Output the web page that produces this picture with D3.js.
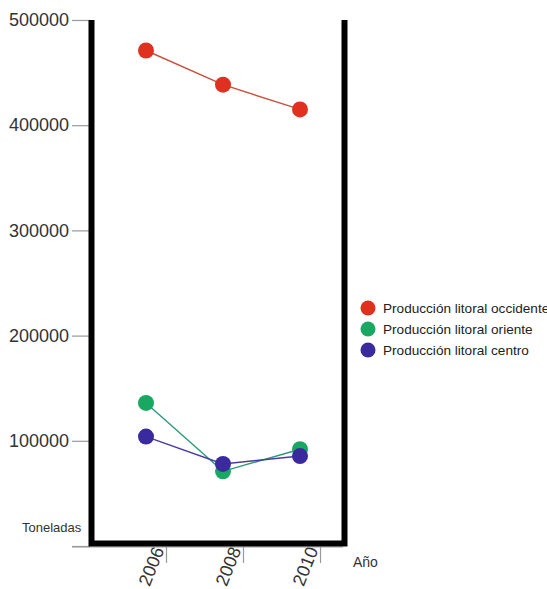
<!DOCTYPE html>
<html><head><meta charset="utf-8">
<script src="https://cdn.jsdelivr.net/npm/d3@7"></script>
<style>
html,body{margin:0;padding:0;background:#fff;overflow:hidden;}
svg{display:block;font-family:"Liberation Sans",Arial,sans-serif;}
</style></head>
<body>
<svg id="c" width="547" height="589"></svg>
<script>
const years = ["2006", "2008", "2010"];
const occidente = [471000, 438500, 415000];
const oriente = [136000, 71000, 92000];
const centro = [104000, 78000, 85500];
const seriesNames = ["Producción litoral occidente", "Producción litoral oriente", "Producción litoral centro"];
const yTicks = [0, 100000, 200000, 300000, 400000, 500000];
const yTickLabels = ["", "100000", "200000", "300000", "400000", "500000"];

const colors = ["#e0301f", "#18a862", "#3a2a9e"];
const lineColors = ["#c8503c", "#2a9a78", "#4a3c9e"];

const svg = d3.select("#c");
const y = d3.scaleLinear().domain([0, 500000]).range([546, 20]);
const x = d3.scalePoint().domain(years).range([146, 300]);
const tickOffset = 20;

// y axis (thin gray ticks)
const yAxis = d3.axisLeft(y).tickValues(yTicks).tickSize(18).tickPadding(3)
  .tickFormat((d, i) => yTickLabels[i]);
const gy = svg.append("g").attr("transform", "translate(90,0)").call(yAxis);
gy.select(".domain").remove();
gy.selectAll(".tick line").attr("stroke", "#999").attr("stroke-width", 1.2);
gy.selectAll(".tick text").attr("fill", "#333").style("font-size", "18px");

// x axis
const xAxis = d3.axisBottom(x).tickSize(16).tickSizeOuter(0).tickPadding(2);
const gx = svg.append("g").attr("transform", "translate(" + tickOffset + ",547)").call(xAxis);
gx.select(".domain").remove();
svg.append("line").attr("x1", 72).attr("x2", 343).attr("y1", 547).attr("y2", 547)
  .attr("stroke", "#999").attr("stroke-width", 1.2);
gx.selectAll(".tick line").attr("stroke", "#999").attr("stroke-width", 1.2);
gx.selectAll(".tick text")
  .attr("fill", "#333").style("font-size", "18px")
  .attr("text-anchor", "end").attr("dy", 0).attr("y", 0)
  .attr("transform", "translate(-2,3) rotate(-68)");

// thick box
const box = svg.append("g").attr("stroke", "#000").attr("fill", "none");
box.append("path")
  .attr("d", "M91.5,20 V543.5 H344.5 V20")
  .attr("stroke-width", 6).attr("stroke-linejoin", "miter");

// series
const data = [occidente, oriente, centro];
const line = d3.line().x((d, i) => x(years[i])).y(d => y(d));
data.forEach((s, k) => {
  svg.append("path").datum(s).attr("d", line)
    .attr("fill", "none").attr("stroke", lineColors[k]).attr("stroke-width", 1.4);
});
data.forEach((s, k) => {
  svg.append("g").selectAll("circle").data(s).join("circle")
    .attr("cx", (d, i) => x(years[i])).attr("cy", d => y(d)).attr("r", 8)
    .attr("fill", colors[k]);
});

// labels
svg.append("text").attr("x", 22).attr("y", 532).text("Toneladas")
  .attr("fill", "#333").style("font-size", "13px");
svg.append("text").attr("x", 353).attr("y", 567).text("Año")
  .attr("fill", "#333").style("font-size", "14px");

// legend
const lg = svg.append("g");
seriesNames.forEach((n, k) => {
  const yy = 308 + k * 21;
  lg.append("circle").attr("cx", 368).attr("cy", yy).attr("r", 7.5).attr("fill", colors[k]);
  lg.append("text").attr("x", 383).attr("y", yy + 5).text(n)
    .attr("fill", "#222").style("font-size", "13.6px");
});
</script>
</body></html>
